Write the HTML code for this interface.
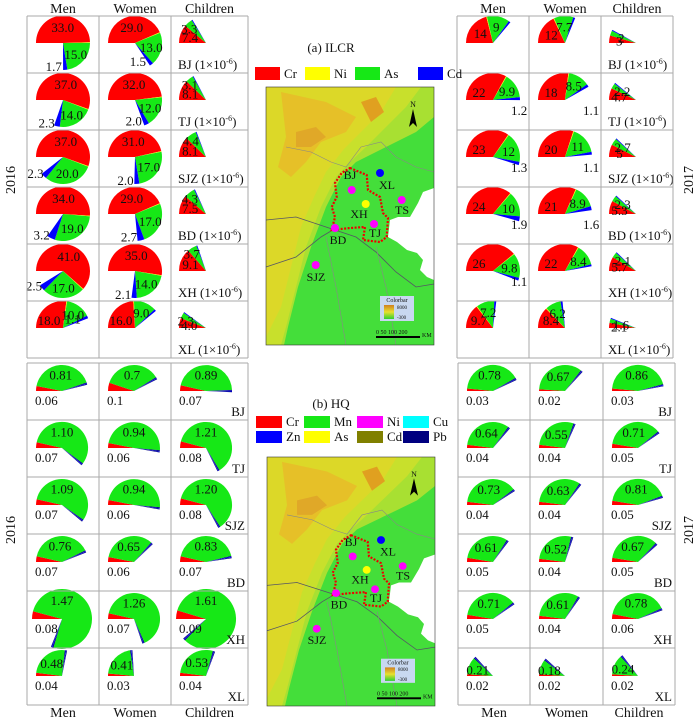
<!DOCTYPE html>
<html><head><meta charset="utf-8">
<style>
html,body{margin:0;padding:0;background:#fff;}
svg{display:block;font-family:"Liberation Serif",serif;}
</style></head>
<body>
<svg id="s" width="700" height="721" viewBox="0 0 700 721" xmlns="http://www.w3.org/2000/svg"></svg>
<script>
const S=document.getElementById('s');let H='';
const RED='#ff0000',GRN='#16e816',BLU='#0000ff',YEL='#ffff00',NAV='#000080';
function P(cx,cy,r,a0,a1,col){if(a0-a1<0.2)return;const t=Math.PI/180;
const x0=cx+r*Math.cos(a0*t),y0=cy-r*Math.sin(a0*t),x1=cx+r*Math.cos(a1*t),y1=cy-r*Math.sin(a1*t);
H+=`<path d="M${cx},${cy}L${x0.toFixed(1)},${y0.toFixed(1)}A${r},${r} 0 ${a0-a1>180?1:0} 1 ${x1.toFixed(1)},${y1.toFixed(1)}Z" fill="${col}"/>`;}
function T(x,y,s,sz,anc,extra){H+=`<text x="${x}" y="${y}" font-size="${sz||13}" text-anchor="${anc||'middle'}" fill="#111" ${extra||''}>${s}</text>`;}
function pol(cx,cy,r,a){const t=Math.PI/180;return[cx+r*Math.cos(a*t),cy-r*Math.sin(a*t)];}
function grid(x0,y0,cols,rowH,n){for(let i=0;i<=n;i++)H+=`<line x1="${x0}" y1="${y0+i*rowH}" x2="${cols[3]}" y2="${y0+i*rowH}" stroke="#aaa"/>`;
for(const c of cols)H+=`<line x1="${c}" y1="${y0}" x2="${c}" y2="${y0+n*rowH}" stroke="#aaa"/>`;}
const locs=['BJ','TJ','SJZ','BD','XH','XL'];
const K=5.4,R=27;
function ilcr(cx,cy,v,lab,yr,child){
 let a=180;const [r,g,b]=v;const rA=parseFloat(r)*K;P(cx,cy,R,a,a-rA,RED);
 const rm=a-rA/2;a-=rA;
 if(!child){P(cx,cy,R,a,a-1.5,YEL);a-=1.5;}
 const gA=parseFloat(g)*K;P(cx,cy,R,a,a-gA,GRN);const gm=a-gA/2;a-=gA;
 const bv=b?parseFloat(b):(child?0.25:0.8);const bA=Math.max(bv*K,2);P(cx,cy,R,a,a-bA,BLU);const bm=a-bA/2;
 let p;
 if(child){p=pol(cx,cy,17,rm);T(p[0].toFixed(1),(p[1]+5).toFixed(1),r);
  p=pol(cx,cy,21,gm+12);T((p[0]+ (yr==2017?6:0)).toFixed(1),(p[1]+3).toFixed(1),g);}
 else{const ra=rA>150?rm:(rm>140?Math.min(rm,150):150);p=pol(cx,cy,R*0.6,ra);T(p[0].toFixed(1),(p[1]+5).toFixed(1),r);
  p=pol(cx,cy,R*0.62,gm);T(p[0].toFixed(1),(p[1]+5).toFixed(1),g);
  if(b){if(yr==2016){p=pol(cx,cy,R*0.85,bm);T((p[0]-3).toFixed(1),(p[1]+5).toFixed(1),b,13,'end');}
   else T(cx+18,cy+15,b,13,'start');}}
}
const I16={M:[['33.0','15.0','1.7'],['37.0','14.0','2.3'],['37.0','20.0','2.3'],['34.0','19.0','3.2'],['41.0','17.0','2.5'],['18.0','10.0','1.1']],
W:[['29.0','13.0','1.5'],['32.0','12.0','2.0'],['31.0','17.0','2.0'],['29.0','17.0','2.7'],['35.0','14.0','2.1'],['16.0','9.0',null]],
C:[['7.4','3.3'],['8.1','3.1'],['8.1','4.4'],['7.5','4.3'],['9.1','3.7'],['4.0','2.3']]};
const I17={M:[['14','9',null],['22','9.9','1.2'],['23','12','1.3'],['24','10','1.9'],['26','9.8','1.1'],['9.7','7.2',null]],
W:[['12','7.7',null],['18','8.5','1.1'],['20','11','1.1'],['21','8.9','1.6'],['22','8.4',null],['8.4','6.2',null]],
C:[['3','2'],['4.7','2.2'],['5','2.7'],['5.3','2.3'],['5.7','2.1'],['2.1','1.6']]};
function ilcrPanel(cols,D,yr){const y0=16,rh=57;
 for(let i=0;i<6;i++){const cy=y0+i*rh+27;
  ilcr(cols[0]+36,cy,D.M[i],0,yr,false);ilcr(cols[1]+36,cy,D.W[i],0,yr,false);ilcr(cols[2]+35,cy,D.C[i],0,yr,true);
  T(cols[2]+7,y0+(i+1)*rh-4,`${locs[i]} (1×10<tspan font-size="8" dy="-5">-6</tspan><tspan dy="5">)</tspan>`,13,'start');}
 grid(cols[0],y0,cols,rh,6);}
ilcrPanel([27,99,171,248],I16,2016);
ilcrPanel([457,529,601,673],I17,2017);
function hq(cx,cy,g,r){const gv=parseFloat(g),rv=parseFloat(r);const RR=gv>1.4?30:26;let a=180;
 const rA=rv*185;P(cx,cy,RR,a,a-rA,RED);a-=rA;const gA=gv*185;P(cx,cy,RR,a,a-gA,GRN);const gm=a-gA/2;a-=gA;
 P(cx,cy,RR,a,a-2,NAV);P(cx,cy,RR,a-2,a-3.5,BLU);P(cx,cy,RR,a-3.5,a-5,NAV);
 const p=pol(cx,cy,RR*0.64,Math.max(gm,90));T(p[0].toFixed(1),(p[1]+5).toFixed(1),g);
 T(cx-27,cy+14,r,13,'start');}
const Q16=[[['0.81','0.06'],['0.7','0.1'],['0.89','0.07']],[['1.10','0.07'],['0.94','0.06'],['1.21','0.08']],[['1.09','0.07'],['0.94','0.06'],['1.20','0.08']],
[['0.76','0.07'],['0.65','0.06'],['0.83','0.07']],[['1.47','0.08'],['1.26','0.07'],['1.61','0.09']],[['0.48','0.04'],['0.41','0.03'],['0.53','0.04']]];
const Q17=[[['0.78','0.03'],['0.67','0.02'],['0.86','0.03']],[['0.64','0.04'],['0.55','0.04'],['0.71','0.05']],[['0.73','0.04'],['0.63','0.04'],['0.81','0.05']],
[['0.61','0.05'],['0.52','0.04'],['0.67','0.05']],[['0.71','0.05'],['0.61','0.04'],['0.78','0.06']],[['0.21','0.02'],['0.18','0.02'],['0.24','0.02']]];
function hqPanel(cols,D){const y0=363,rh=57;
 for(let i=0;i<6;i++){for(let j=0;j<3;j++)hq(cols[j]+35,y0+i*rh+28,D[i][j][0],D[i][j][1]);
  T(cols[3]-3,y0+(i+1)*rh-4,locs[i],13,'end');}
 grid(cols[0],y0,cols,rh,6);}
hqPanel([27,99,171,248],Q16);
hqPanel([458,530,603,675],Q17);
const hd=['Men','Women','Children'];
[[27,99,171,248],[457,529,601,673]].forEach(c=>{for(let j=0;j<3;j++)T((c[j]+c[j+1])/2,13,hd[j],14);});
[[27,99,171,248],[458,530,603,675]].forEach(c=>{for(let j=0;j<3;j++)T((c[j]+c[j+1])/2,717,hd[j],14);});
T(0,0,'2016',14,'middle','transform="translate(15,180) rotate(-90)"');
T(0,0,'2016',14,'middle','transform="translate(15,530) rotate(-90)"');
T(0,0,'2017',14,'middle','transform="translate(693,180) rotate(-90)"');
T(0,0,'2017',14,'middle','transform="translate(693,530) rotate(-90)"');
T(331,52,'(a) ILCR',13);
[[255,RED,'Cr'],[305,YEL,'Ni'],[355,GRN,'As'],[418,BLU,'Cd']].forEach(([x,c,t])=>{H+=`<rect x="${x}" y="67" width="25" height="13" fill="${c}"/>`;T(x+29,78,t,13,'start');});
T(331,408,'(b) HQ',13);
[[256,416,RED,'Cr'],[304,416,GRN,'Mn'],[357,416,'#ff00ff','Ni'],[403,416,'#00ffff','Cu'],
 [256,431,BLU,'Zn'],[304,431,YEL,'As'],[357,431,'#808000','Cd'],[403,431,NAV,'Pb']].forEach(([x,y,c,t])=>{H+=`<rect x="${x}" y="${y}" width="26" height="12" fill="${c}"/>`;T(x+30,y+10,t,13,'start');});
function map(ox,oy,w,h){const sx=w/168,sy=h/258;
 H+=`<g transform="translate(${ox},${oy}) scale(${sx},${sy})">`;
 H+=`<rect x="0" y="0" width="168" height="258" fill="#44de3a"/>`;
 H+=`<polygon points="0,0 168,0 168,30 150,45 130,55 110,65 90,75 75,90 60,120 45,160 32,200 22,240 18,258 0,258" fill="#a8e032"/>`;
 H+=`<polygon points="0,0 155,0 140,20 120,40 100,60 84,75 70,90 55,120 40,160 30,200 20,240 15,258 0,258" fill="#c8e02c"/>`;
 H+=`<polygon points="0,0 130,0 115,25 95,45 78,62 60,85 48,110 35,140 25,180 15,220 0,250" fill="#dcd828"/>`;
 H+=`<polygon points="15,5 60,15 90,30 80,45 55,55 40,75 25,90 12,80 20,50" fill="#e6c028"/>`;
 H+=`<polygon points="95,15 110,10 118,25 105,35" fill="#e0a020"/>`;
 H+=`<polygon points="30,45 50,40 60,50 45,60 30,60" fill="#e0a828"/>`;
 H+=`<polygon points="168,101 157,105 152,116 144,130 132,130 124,133 122,150 131,155 141,163 151,166 157,173 154,183 161,190 168,193" fill="#fff"/>`;
 H+=`<polyline points="0,133 30,130 60,140 90,150 110,165 130,185 150,200 168,197" fill="none" stroke="#556" stroke-width="0.8"/>`;
 H+=`<polyline points="0,180 30,170 55,150 70,141" fill="none" stroke="#556" stroke-width="0.8"/>`;
 H+=`<polyline points="20,60 45,65 65,75 80,80 95,60 115,55 130,70 150,80 168,85" fill="none" stroke="#888" stroke-width="0.6"/>`;
 H+=`<polyline points="60,150 70,200 80,258" fill="none" stroke="#888" stroke-width="0.6"/>`;
 H+=`<polyline points="110,160 120,200 130,258" fill="none" stroke="#888" stroke-width="0.6"/>`;
 H+=`<polygon points="84,81 100.7,88 102,103 114,110 117,126 122,131 120.7,150 114,155 97,153 99,140 84,141 65.7,143 69,130 65.7,120 70.7,110 69,96 75.7,86" fill="none" stroke="#e00" stroke-width="2.2" stroke-dasharray="2,1.5"/>`;
 const pts=[[85.7,103,'#ff00ff','BJ',84,92],[114,86,'#0000ff','XL',121,102],[99.7,117,'#ffff00','XH',93,131],[135.7,113,'#ff00ff','TS',136,127],
 [108,137,'#ff00ff','TJ',109,150],[69,141,'#ff00ff','BD',72,157],[49.7,178,'#ff00ff','SJZ',50,194]];
 pts.forEach(([x,y,c,t,lx,ly])=>{H+=`<circle cx="${x}" cy="${y}" r="4" fill="${c}"/>`;T(lx,ly,t,12);});
 H+=`<polygon points="147,22 143,40 147,36 151,40" fill="#000"/>`;T(147,20,'N',8);
 H+=`<rect x="114" y="209" width="34" height="25" fill="#c8d8f0"/>`;T(131,215,'Colorbar',6);
 H+=`<defs><linearGradient id="cb${ox}${oy}" x1="0" y1="0" x2="0" y2="1"><stop offset="0" stop-color="#d08020"/><stop offset="0.5" stop-color="#e8e030"/><stop offset="1" stop-color="#30d030"/></linearGradient></defs>`;
 H+=`<rect x="118" y="218" width="10" height="14" fill="url(#cb${ox}${oy})"/>`;T(131,222,'8000',5,'start');T(131,232,'-300',5,'start');
 T(110,247,'0 50 100 200',6,'start');T(156,250,'KM',6,'start');H+=`<rect x="110" y="249" width="44" height="2" fill="#000"/>`;
 H+=`<rect x="0" y="0" width="168" height="258" fill="none" stroke="#333" stroke-width="0.6"/>`;
 H+=`</g>`;}
map(266,87,168,258);
map(267,457,168,249);
S.innerHTML=H;
</script>
</body></html>
